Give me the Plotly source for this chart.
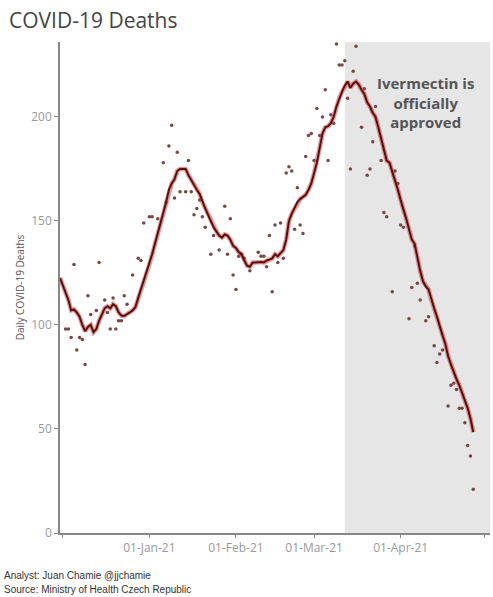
"""Czech Republic daily COVID-19 deaths with 7-day average, ivermectin approval shaded."""

import pandas as pd
import plotly.graph_objects as go

START = "2020-11-30"
APPROVAL_DATE = "2021-03-12"
RANGE_END = "2021-05-03"

# 7-day average, one value per day from START
avg_deaths = [
    122.6, 119, 116, 112, 107, 107.5, 106, 104, 100, 97,
    99, 100, 96.5, 98, 102, 105, 108, 109, 108, 110,
    109, 106, 104.5, 104.3, 105, 106, 107, 108.5, 113, 117,
    121, 125, 129, 134, 139, 144, 149, 153, 159, 165,
    168, 170, 174, 175, 175, 175, 172, 169.5, 167, 165,
    163, 159, 156, 153, 150, 147, 145, 143, 142, 143.5,
    143, 141, 138, 137, 135, 134, 131, 128.5, 128, 130,
    130, 130.2, 130.3, 130, 131, 131.4, 132, 134, 133, 134.5,
    136, 141, 150, 153.5, 156, 159, 160.5, 161.5, 162.5, 165,
    168, 173, 178, 185, 192, 195, 195.5, 197, 200, 205,
    209, 212, 215, 217, 214, 216, 217, 215.5, 213, 211,
    207, 205, 202, 200, 195, 190, 184, 179, 178, 174,
    169, 165, 160, 156, 151, 146, 141, 139, 132, 126,
    121, 118.5, 117, 112, 108, 104, 99, 95, 91, 85,
    81, 77, 74, 71, 67.5, 63, 60, 55, 48.5,
]

# daily reported deaths (day offset from START, value)
point_day = [
    2, 3, 4, 5, 6, 7, 8, 9, 10, 11, 13, 14, 16, 17, 18, 19, 20, 21, 22, 23,
    24, 26, 28, 29, 30, 32, 33, 35, 37, 38, 39, 40, 41, 42, 43, 45, 46, 47, 48, 49,
    50, 51, 52, 54, 55, 57, 59, 60, 61, 62, 63, 64, 65, 66, 68, 71, 72, 73, 74, 75,
    76, 77, 78, 79, 80, 81, 82, 83, 84, 85, 86, 87, 88, 89, 90, 91, 92, 93, 94, 95,
    96, 97, 98, 99, 100, 101, 102, 103, 104, 105, 106, 108, 109, 110, 111, 112, 113, 115, 116, 117,
    119, 120, 121, 122, 123, 125, 126, 127, 128, 129, 131, 132, 134, 135, 136, 137, 139, 140, 141, 142,
    143, 144, 145, 146, 147, 148,
]
point_deaths = [
    98, 98, 94, 129, 88, 94, 93, 81, 114, 105, 107, 130, 112, 106, 98, 113, 98, 102, 102, 114,
    110, 124, 132, 131, 149, 152, 152, 151, 178, 159, 186, 196, 161, 183, 164, 164, 179, 164, 153, 156,
    160, 152, 147, 134, 143, 136, 157, 134, 151, 124, 117, 133, 134, 132, 126, 135, 133, 133, 128, 143,
    116, 148, 130, 149, 132, 173, 176, 174, 146, 166, 148, 144, 181, 191, 192, 179, 204, 191, 200, 213,
    179, 201, 197, 235, 225, 225, 227, 209, 175, 222, 234, 195, 213.5, 172, 175, 188, 205, 179, 154, 152,
    116, 174, 168, 148, 147, 103, 118, 138, 120, 112, 102, 104, 90, 82, 86, 88, 61, 71, 72, 69,
    60, 60, 53, 42, 37, 21,
]

y_ticks = [0, 50, 100, 150, 200]
x_ticks = ["2020-12-01", "2021-01-01", "2021-02-01", "2021-03-01", "2021-04-01", "2021-05-01"]
x_tick_labels = ["", "01-Jan-21", "01-Feb-21", "01-Mar-21", "01-Apr-21", ""]

start = pd.Timestamp(START)
avg_dates = pd.date_range(start, periods=len(avg_deaths), freq="D")
point_dates = [start + pd.Timedelta(days=d) for d in point_day]

fig = go.Figure()

fig.add_vrect(
    x0=APPROVAL_DATE, x1=RANGE_END, fillcolor="#e6e6e6", line_width=0, layer="below"
)

fig.add_trace(
    go.Scatter(
        x=point_dates,
        y=point_deaths,
        mode="markers",
        marker=dict(size=3.5, color="#7a4545"),
        hoverinfo="x+y",
        showlegend=False,
    )
)
# soft red halo under the average line
fig.add_trace(
    go.Scatter(
        x=avg_dates,
        y=avg_deaths,
        mode="lines",
        line=dict(color="rgba(205,70,70,0.55)", width=4.5),
        hoverinfo="skip",
        showlegend=False,
    )
)
fig.add_trace(
    go.Scatter(
        x=avg_dates,
        y=avg_deaths,
        mode="lines",
        line=dict(color="#5a0e0e", width=2),
        showlegend=False,
    )
)

fig.add_annotation(
    x="2021-04-10",
    y=207,
    text="<b>Ivermectin is<br>officially<br>approved</b>",
    showarrow=False,
    font=dict(family="Open Sans", size=15, color="#555555"),
    align="center",
)

# title and footer, placed in paper units relative to the plot box
fig.add_annotation(
    xref="paper", yref="paper", x=-0.123, y=1.077,
    text="COVID-19 Deaths", showarrow=False, xanchor="left", yanchor="top",
    font=dict(family="Open Sans", size=21, color="#444444"),
)
fig.add_annotation(
    xref="paper", yref="paper", x=-0.135, y=-0.071,
    text="Analyst: Juan Chamie @jjchamie",
    showarrow=False, xanchor="left", yanchor="top",
    font=dict(family="Liberation Sans", size=10, color="#333333"),
)
fig.add_annotation(
    xref="paper", yref="paper", x=-0.135, y=-0.099,
    text="Source: Ministry of Health Czech Republic",
    showarrow=False, xanchor="left", yanchor="top",
    font=dict(family="Liberation Sans", size=10, color="#333333"),
)

fig.update_layout(
    width=493,
    height=597,
    margin=dict(l=60, r=3, t=42, b=64),
    plot_bgcolor="white",
    paper_bgcolor="white",
    font=dict(family="Open Sans", color="#999999", size=11),
    xaxis=dict(
        range=[START, RANGE_END],
        tickvals=x_ticks,
        ticktext=x_tick_labels,
        showgrid=False,
        zeroline=False,
        showline=True,
        linecolor="#888888",
        linewidth=1.5,
        ticks="outside",
        ticklen=3,
        tickcolor="#888888",
        tickfont=dict(size=12, color="#999999"),
        automargin=False,
    ),
    yaxis=dict(
        range=[0, 236],
        tickvals=y_ticks,
        showgrid=False,
        zeroline=False,
        showline=True,
        linecolor="#888888",
        linewidth=1.5,
        ticks="outside",
        ticklen=4,
        tickcolor="#888888",
        tickfont=dict(size=12, color="#999999"),
        automargin=False,
        title=dict(
            text="Daily COVID-19 Deaths",
            font=dict(size=10, color="#555555"),
            standoff=5,
        ),
    ),
)

# drop the browser's default body margin so the 493x597 figure fills the window
fig.write_html(
    "out.html",
    config={"displayModeBar": False},
    post_script="document.body.style.margin='0';document.body.style.overflow='hidden';",
)
